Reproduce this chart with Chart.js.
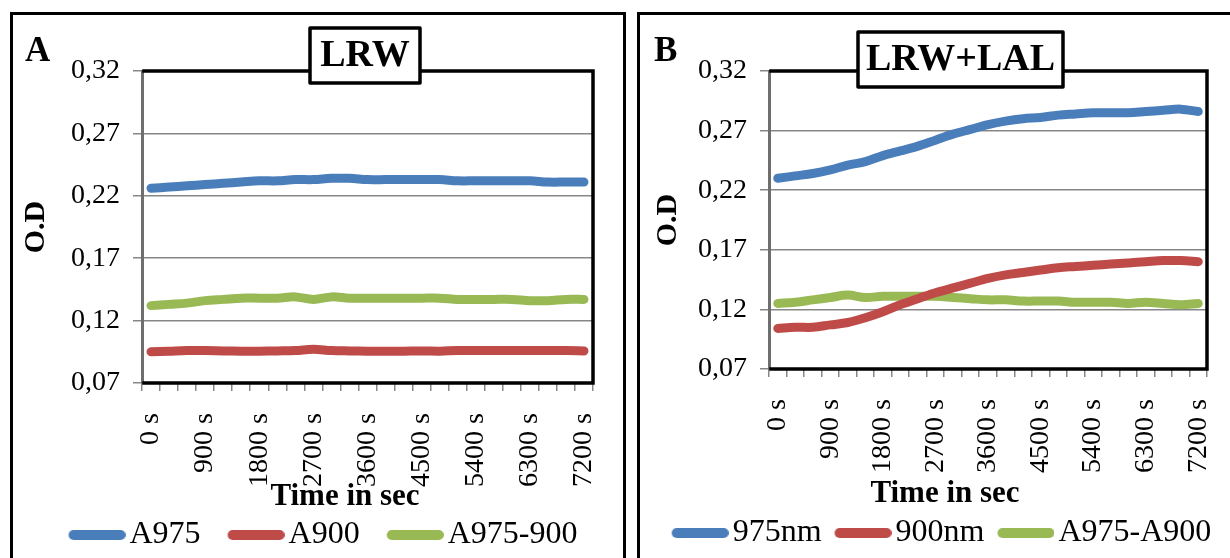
<!DOCTYPE html>
<html>
<head>
<meta charset="utf-8">
<script src="https://cdn.jsdelivr.net/npm/chart.js@4.4.1/dist/chart.umd.min.js"></script>
<style>
    html, body { margin: 0; padding: 0; background: #fff; overflow: hidden; width: 1230px; height: 558px; }
    .panel { position: absolute; top: 12px; border: 3px solid #000; background: #fff; }
    #panelA { left: 10px; width: 610px; height: 560px; }
    #panelB { left: 637px; width: 600px; height: 560px; }
    .panel div { position: relative; width: 100%; height: 560px; }
</style>
</head>
<body>
<div class="panel" id="panelA"><div><canvas id="chartA"></canvas></div></div>
<div class="panel" id="panelB"><div><canvas id="chartB"></canvas></div></div>

<script>
// time points, every 300 s
const times = ["0 s", "300 s", "600 s", "900 s", "1200 s", "1500 s", "1800 s", "2100 s", "2400 s",
    "2700 s", "3000 s", "3300 s", "3600 s", "3900 s", "4200 s", "4500 s", "4800 s", "5100 s",
    "5400 s", "5700 s", "6000 s", "6300 s", "6600 s", "6900 s", "7200 s"];

// panel A - LRW
const lrwA975 = [0.226, 0.227, 0.228, 0.229, 0.230, 0.231, 0.232, 0.232, 0.233, 0.233, 0.234, 0.234, 0.233,
    0.233, 0.233, 0.233, 0.233, 0.232, 0.232, 0.232, 0.232, 0.232, 0.231, 0.231, 0.231];
const lrwA900 = [0.095, 0.0955, 0.096, 0.096, 0.0957, 0.0955, 0.0955, 0.0957, 0.096, 0.097, 0.096, 0.0957, 0.0955,
    0.0955, 0.0955, 0.0957, 0.0955, 0.096, 0.096, 0.096, 0.096, 0.096, 0.096, 0.096, 0.0957];
const lrwDiff = [0.132, 0.133, 0.134, 0.136, 0.137, 0.138, 0.138, 0.138, 0.139, 0.137, 0.139, 0.138, 0.138,
    0.138, 0.138, 0.138, 0.138, 0.137, 0.137, 0.137, 0.137, 0.136, 0.136, 0.137, 0.137];

// panel B - LRW+LAL
const lal975 = [0.230, 0.232, 0.234, 0.237, 0.241, 0.244, 0.249, 0.253, 0.257, 0.262, 0.267, 0.271, 0.275,
    0.278, 0.280, 0.281, 0.283, 0.284, 0.285, 0.285, 0.285, 0.286, 0.287, 0.288, 0.286];
const lal900 = [0.104, 0.105, 0.105, 0.107, 0.109, 0.113, 0.118, 0.124, 0.129, 0.134, 0.138, 0.142, 0.146,
    0.149, 0.151, 0.153, 0.155, 0.156, 0.157, 0.158, 0.159, 0.160, 0.161, 0.161, 0.160];
const lalDiff = [0.125, 0.126, 0.128, 0.130, 0.132, 0.130, 0.131, 0.131, 0.131, 0.131, 0.130, 0.129, 0.128,
    0.128, 0.127, 0.127, 0.127, 0.126, 0.126, 0.126, 0.125, 0.126, 0.125, 0.124, 0.125];

const yTicks = [0.07, 0.12, 0.17, 0.22, 0.27, 0.32];

const colors = {
    blue: "#4a7ebb",
    red: "#be4b48",
    green: "#98b954",
    grid: "#878787",
};

Chart.defaults.font.family = "'Liberation Serif', 'Times New Roman', serif";
Chart.defaults.color = "#000";

// legend sample: thick rounded line, drawn in the right part of the image
// so that the text sits close to it
function legendLine(color) {
    const c = document.createElement("canvas");
    c.width = 81;
    c.height = 12;
    const g = c.getContext("2d");
    g.strokeStyle = color;
    g.lineWidth = 10;
    g.lineCap = "round";
    g.beginPath();
    g.moveTo(29, 6);
    g.lineTo(76, 6);
    g.stroke();
    return c;
}

function series(label, data, color) {
    return {
        label: label,
        data: data,
        borderColor: color,
        backgroundColor: color,
        borderWidth: 9,
        borderCapStyle: "round",
        borderJoinStyle: "round",
        pointRadius: 0,
        pointHoverRadius: 0,
        pointStyle: legendLine(color),
        tension: 0.35,
    };
}

// plot frame, title box, panel letter and x axis title
const decorations = {
    id: "decorations",
    afterLayout(chart, args, opts) {
        // the legend sits a bit right of centre in the original
        chart.legend.left += opts.legendShift;
        chart.legend.right += opts.legendShift;
    },
    afterDraw(chart, args, opts) {
        const { ctx, chartArea: a } = chart;
        ctx.save();
        ctx.strokeStyle = "#000";
        ctx.lineWidth = 3.5;
        ctx.lineCap = "square";
        ctx.beginPath();
        ctx.moveTo(a.left + 2, a.top);
        ctx.lineTo(a.right, a.top);
        ctx.lineTo(a.right, a.bottom);
        ctx.lineTo(a.left + 2, a.bottom);
        ctx.stroke();

        const b = opts.box;
        ctx.fillStyle = "#fff";
        ctx.fillRect(b.x, b.y, b.w, b.h);
        ctx.lineWidth = 3.5;
        ctx.lineJoin = "round";
        ctx.strokeRect(b.x, b.y, b.w, b.h);
        ctx.fillStyle = "#000";
        ctx.font = "bold 38px 'Liberation Serif', serif";
        ctx.textAlign = "center";
        ctx.textBaseline = "middle";
        ctx.fillText(opts.title, b.x + b.w / 2, b.y + b.h / 2 + 1);

        ctx.font = "bold 31px 'Liberation Serif', serif";
        ctx.fillText("Time in sec", opts.xTitle.x, opts.xTitle.y);

        ctx.font = "bold 35px 'Liberation Serif', serif";
        ctx.textAlign = "left";
        ctx.textBaseline = "alphabetic";
        ctx.fillText(opts.letter.text, opts.letter.x, opts.letter.y);
        ctx.restore();
    },
};

function makeChart(id, datasets, cfg) {
    const ctx = document.getElementById(id);
    return new Chart(ctx.getContext("2d"), {
        type: "line",
        data: { labels: times, datasets: datasets },
        plugins: [decorations],
        options: {
            responsive: true,
            maintainAspectRatio: false,
            animation: false,
            events: [],
            layout: { padding: { top: 56, left: 0, right: cfg.padRight, bottom: cfg.padBottom } },
            plugins: {
                tooltip: { enabled: false },
                legend: {
                    position: "bottom",
                    labels: {
                        usePointStyle: true,
                        pointStyleWidth: 57,
                        padding: cfg.legendPad,
                        font: { size: 32 },
                        color: "#000",
                    },
                },
                decorations: cfg.deco,
            },
            scales: {
                x: {
                    offset: true,
                    grid: { offset: true, drawOnChartArea: false, color: colors.grid, lineWidth: 1.5, tickLength: 8 },
                    border: { display: false },
                    ticks: {
                        autoSkip: false,
                        maxRotation: 90,
                        minRotation: 90,
                        padding: 22,
                        font: { size: 28 },
                        color: "#000",
                        callback: function (v, i) {
                            return i % 3 === 0 ? this.getLabelForValue(v) : "";
                        },
                    },
                    afterFit: (s) => {
                        s.height = s.chart.height - cfg.padBottom - s.chart.legend.height - cfg.plotBottom;
                        // plot width comes from layout padding only
                        s.paddingLeft = 0;
                        s.paddingRight = 0;
                    },
                },
                y: {
                    min: 0.07,
                    max: 0.32,
                    afterBuildTicks: (s) => {
                        s.ticks = yTicks.map((v) => ({ value: v }));
                    },
                    afterFit: (s) => {
                        s.width = 129;
                    },
                    grid: { color: colors.grid, lineWidth: 1.5, tickLength: 9 },
                    border: { color: "#6e6e6e", width: 3 },
                    ticks: {
                        padding: 13,
                        font: { size: 28 },
                        color: "#000",
                        callback: (v) => v.toFixed(2).replace(".", ","),
                    },
                    title: {
                        display: true,
                        text: "O.D",
                        font: { size: 30, weight: "bold" },
                        color: "#000",
                        padding: { top: cfg.yTitlePad, bottom: 0 },
                    },
                },
            },
        },
    });
}

makeChart("chartA", [
    series("A975", lrwA975, colors.blue),
    series("A900", lrwA900, colors.red),
    series("A975-900", lrwDiff, colors.green),
], {
    padRight: 30,
    padBottom: 14,
    plotBottom: 368,
    legendPad: 15,
    yTitlePad: 5,
    deco: {
        title: "LRW",
        box: { x: 297, y: 13, w: 110, h: 55 },
        letter: { text: "A", x: 12, y: 46 },
        xTitle: { x: 332, y: 482 },
        legendShift: 14,
    },
});

makeChart("chartB", [
    series("975nm", lal975, colors.blue),
    series("900nm", lal900, colors.red),
    series("A975-A900", lalDiff, colors.green),
], {
    padRight: 33,
    padBottom: 16,
    plotBottom: 354,
    legendPad: 1,
    yTitlePad: 10,
    deco: {
        title: "LRW+LAL",
        box: { x: 218, y: 17, w: 205, h: 55 },
        letter: { text: "B", x: 14, y: 46 },
        xTitle: { x: 305, y: 479 },
        legendShift: 12,
    },
});
</script>
</body>
</html>
